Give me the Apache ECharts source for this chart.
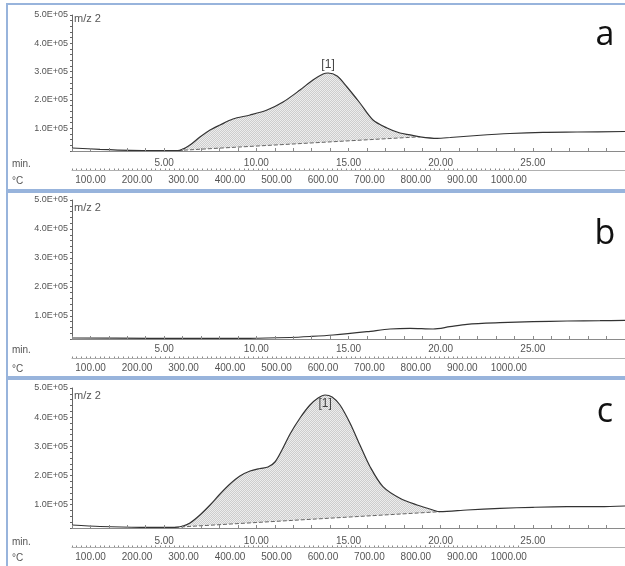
<!DOCTYPE html>
<html><head><meta charset="utf-8">
<script src="https://cdn.jsdelivr.net/npm/echarts@6/dist/echarts.min.js"></script>
<style>html,body{margin:0;padding:0;background:#fff}#c{width:625px;height:566px}</style>
</head><body><div id="c"></div>
<script>
// ---- data ----
const panelLetters = ['a', 'b', 'c'];
const timeA = [0, 1.52, 3.15, 4.77, 5.75, 6.40, 6.94, 7.49, 8.03, 8.73, 9.66, 10.58, 11.45, 12.37, 13.07, 13.62, 13.89, 14.38, 14.92, 15.62, 16.33, 17.09, 17.79, 18.34, 18.88, 19.80, 20.51, 21.97, 23.76, 25.55, 27.40, 30];
const intensityA = [30600, 26000, 22500, 21800, 21800, 41200, 69400, 94100, 111800, 132900, 147100, 164700, 192900, 235300, 270600, 291800, 295300, 284700, 245900, 189400, 129400, 101200, 83500, 77000, 70100, 64800, 67600, 74700, 81800, 86000, 87100, 88800];
const baselineTimeA = [5.75, 18.88];
const baselineIntensityA = [21800, 70100];

const timeB = [0, 4.23, 9.66, 11.83, 12.91, 14.16, 16.0, 17.25, 18.34, 19.59, 20.5, 21.43, 23.22, 25.01, 26.86, 28.65, 30];
const intensityB = [23500, 22400, 22400, 25200, 28600, 33800, 45200, 54500, 57000, 54500, 62500, 70800, 76300, 79700, 82200, 83200, 84600];

const timeC = [0, 1.52, 3.69, 5.59, 6.02, 6.40, 6.94, 7.49, 8.03, 8.57, 9.11, 9.66, 10.20, 10.63, 11.01, 11.39, 11.83, 12.37, 12.91, 13.35, 13.73, 14.11, 14.54, 15.08, 15.62, 16.17, 16.87, 17.79, 18.72, 19.58, 19.96, 21.43, 23.22, 25.01, 26.85, 28.64, 30];
const intensityC = [30300, 25100, 22400, 22400, 26900, 37100, 64600, 98900, 136600, 170900, 198300, 215400, 224000, 229100, 246300, 287400, 342300, 397100, 441700, 465700, 476000, 469100, 441700, 380000, 304600, 230200, 161600, 121800, 98900, 81700, 75900, 81700, 87500, 91000, 93000, 93000, 95400];
const baselineTimeC = [5.59, 19.96];
const baselineIntensityC = [22400, 75900];

const yTickLabels = [100000, 200000, 300000, 400000, 500000];
const timeTickLabels = [5, 10, 15, 20, 25];
const tempTickLabels = [100, 200, 300, 400, 500, 600, 700, 800, 900, 1000];
const tempRange = [60, 1250];      // temperature at left / right edge of the plot
const tempRulerEnd = 1020;         // last small tick of the °C ruler
const peakName = '[1]';
const channelName = 'm/z 2';

// ---- layout / style ----
const plotLeft = 72, plotWidth = 553;
const layout = [
  {top: 15, height: 136, tMargin: 7, mzY: 19, box: [7, 4, 640, 186], letterY: 35},
  {top: 200, height: 139, tMargin: 5, mzY: 208, box: [7, 192, 640, 185], letterY: 234},
  {top: 388, height: 140, tMargin: 8, mzY: 396, box: [7, 379, 640, 200], letterY: 412}
];
const panels = [
  {time: timeA, val: intensityA, bt: baselineTimeA, bv: baselineIntensityA, peakPos: 'top'},
  {time: timeB, val: intensityB, bt: null, bv: null},
  {time: timeC, val: intensityC, bt: baselineTimeC, bv: baselineIntensityC, peakPos: 'bottom'}
];
const tempOffset = 19;
const smoothness = 0.3;
const font = '"Liberation Sans", Arial, sans-serif';

function makePattern() {
  const cv = document.createElement('canvas');
  cv.width = 4; cv.height = 4;
  const ctx = cv.getContext('2d');
  for (let i = 0; i < 4; i++) for (let j = 0; j < 4; j++) {
    ctx.fillStyle = ((i + j) % 2) ? '#cdcdcd' : '#ededed';
    ctx.fillRect(i, j, 1, 1);
  }
  return cv;
}
const pat = {image: makePattern(), repeat: 'repeat'};

const grids = [], xAxes = [], yAxes = [], series = [], graphics = [];
const rulerWidth = plotWidth * (tempRulerEnd - tempRange[0]) / (tempRange[1] - tempRange[0]);
layout.forEach((L, i) => {
  grids.push({left: plotLeft, width: plotWidth, top: L.top, height: L.height, outerBoundsMode: 'none', containLabel: false});
  xAxes.push({
    type: 'value', gridIndex: i, min: 0, max: 30, interval: 1, position: 'bottom', z: 10,
    axisLine: {show: true, onZero: false, lineStyle: {color: '#8a8a8a', width: 1}},
    axisTick: {show: true, inside: true, length: 3, lineStyle: {color: '#8a8a8a'}},
    splitLine: {show: false},
    axisLabel: {margin: L.tMargin, color: '#555', fontSize: 10, fontFamily: font,
      formatter: v => timeTickLabels.indexOf(Math.round(v * 100) / 100) >= 0 ? v.toFixed(2) : ''}
  });
  xAxes.push({
    type: 'value', gridIndex: i, min: tempRange[0], max: tempRange[1], interval: 10, position: 'bottom', offset: tempOffset, z: 10,
    axisLine: {show: true, onZero: false, lineStyle: {color: '#b0b0b0', width: 1}},
    axisTick: {show: false},
    splitLine: {show: false},
    axisLabel: {margin: 5, color: '#555', fontSize: 10, fontFamily: font,
      formatter: v => tempTickLabels.indexOf(Math.round(v)) >= 0 ? v.toFixed(2) : ''}
  });
  yAxes.push({
    type: 'value', gridIndex: i, min: 20000, max: 500000, interval: 20000,
    axisLine: {show: true, onZero: false, lineStyle: {color: '#666', width: 1}},
    axisTick: {show: true, inside: false, length: 2, lineStyle: {color: '#666'}},
    splitLine: {show: false},
    axisLabel: {margin: 4, color: '#555', fontSize: 9, fontFamily: font,
      formatter: v => yTickLabels.indexOf(v) >= 0 ? (v / 100000).toFixed(1) + 'E+05' : ''}
  });

  const P = panels[i];
  const pts = P.time.map((t, k) => [t, P.val[k]]);
  const curve = {
    type: 'line', xAxisIndex: 2 * i, yAxisIndex: i, data: pts, showSymbol: false, symbol: 'none',
    smooth: smoothness, lineStyle: {color: '#333', width: 1.2}, z: 6, silent: true, animation: false
  };
  if (P.bt) {
    let pk = 0;
    P.val.forEach((v, k) => { if (v > P.val[pk]) pk = k; });
    curve.markPoint = {
      symbol: 'circle', symbolSize: 1, itemStyle: {color: 'rgba(0,0,0,0)'}, animation: false,
      label: {show: true, position: P.peakPos, distance: 2, formatter: peakName, color: '#444', fontSize: 12, fontFamily: font},
      data: [{coord: pts[pk]}]
    };
    const seg = pts.filter(p => p[0] >= P.bt[0] && p[0] <= P.bt[1]);
    series.push({
      type: 'line', xAxisIndex: 2 * i, yAxisIndex: i, data: seg, showSymbol: false, symbol: 'none',
      smooth: smoothness, lineStyle: {width: 0, opacity: 0},
      areaStyle: {color: pat, opacity: 1, origin: 'start'}, z: 2, silent: true, animation: false
    });
    series.push({
      type: 'line', xAxisIndex: 2 * i, yAxisIndex: i,
      data: P.bt.map((t, k) => [t, P.bv[k]]), showSymbol: false, symbol: 'none',
      lineStyle: {color: '#666', width: 1, type: [4, 2]},
      areaStyle: {color: '#ffffff', opacity: 1, origin: 'start'}, z: 3, silent: true, animation: false
    });
  }
  series.push(curve);

  // texts and frames
  graphics.push({type: 'rect', shape: {x: L.box[0], y: L.box[1], width: L.box[2], height: L.box[3]},
    style: {fill: 'none', stroke: '#98b4dc', lineWidth: 2}, z: 0, silent: true});
  graphics.push({type: 'text', x: 74, y: L.mzY, style: {text: channelName, fill: '#555', fontSize: 11, fontFamily: font, textVerticalAlign: 'middle'}});
  const tLabY = L.top + L.height + L.tMargin + 6;
  const cLabY = L.top + L.height + tempOffset + 5 + 6;
  graphics.push({type: 'text', x: 12, y: tLabY, style: {text: 'min.', fill: '#555', fontSize: 10, fontFamily: font, textVerticalAlign: 'middle'}});
  graphics.push({type: 'text', x: 12, y: cLabY, style: {text: '°C', fill: '#555', fontSize: 10, fontFamily: font, textVerticalAlign: 'middle'}});
  graphics.push({type: 'text', x: 605, y: L.letterY, style: {text: panelLetters[i], fill: '#111', fontSize: 34, fontFamily: '"Open Sans", sans-serif', textAlign: 'center', textVerticalAlign: 'middle'}});
});

// small-tick °C rulers (ticks only up to tempRulerEnd)
layout.forEach((L, i) => {
  const g = grids.length;
  grids.push({left: plotLeft, width: rulerWidth, top: L.top, height: L.height, outerBoundsMode: 'none', containLabel: false});
  xAxes.push({
    type: 'value', gridIndex: g, min: tempRange[0], max: tempRulerEnd, interval: 10, position: 'bottom', offset: tempOffset, z: 11,
    axisLine: {show: false}, splitLine: {show: false}, axisLabel: {show: false},
    axisTick: {show: true, inside: true, length: 1.5, lineStyle: {color: '#888'}}
  });
  yAxes.push({type: 'value', gridIndex: g, min: 20000, max: 500000, show: false});
});

const chart = echarts.init(document.getElementById('c'), null, {renderer: 'canvas'});
chart.setOption({
  animation: false,
  backgroundColor: '#fff',
  grid: grids, xAxis: xAxes, yAxis: yAxes, series: series,
  graphic: graphics
});
</script></body></html>
